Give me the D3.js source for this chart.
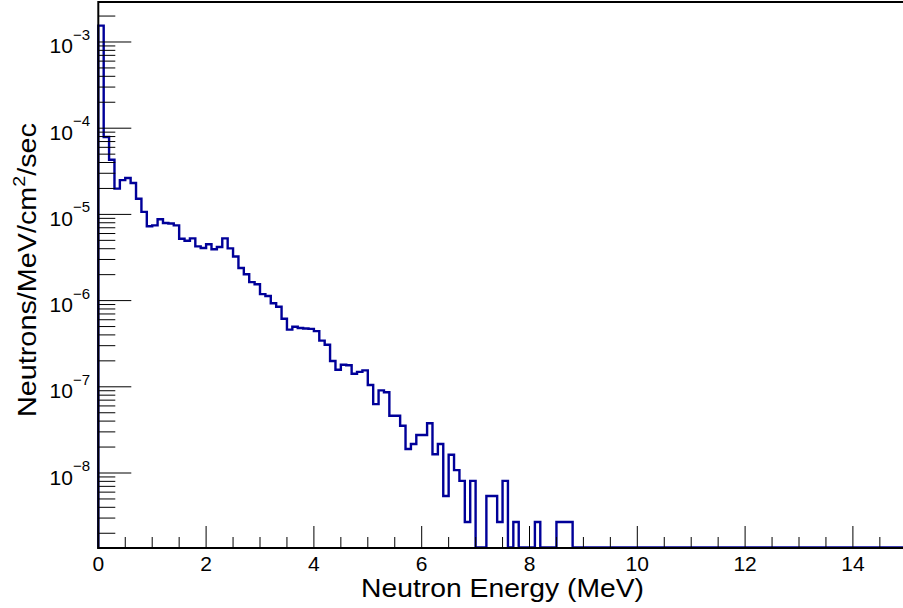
<!DOCTYPE html>
<html>
<head>
<meta charset="utf-8">
<script src="https://cdn.jsdelivr.net/npm/d3@7"></script>
<style>
  html, body { margin: 0; padding: 0; background: #fff; }
  svg { display: block; }
  text { font-family: "Liberation Sans", Arial, Helvetica, sans-serif; fill: #000; }
</style>
</head>
<body>
<svg id="chart" width="903" height="608"></svg>
<script>
// ---- data ----
const binWidth = 0.1;       // MeV
const xDomain = [0, 15];
const counts = [
  1.55e-3, 7.9e-5, 4.3e-5, 1.99e-5, 2.5e-5, 2.64e-5, 2.31e-5, 1.52e-5, 1.07e-5, 7.3e-6,
  7.46e-6, 8.77e-6, 7.94e-6, 7.85e-6, 7.46e-6, 5.22e-6, 4.95e-6, 5.27e-6, 4.26e-6, 4.07e-6,
  4.5e-6, 3.94e-6, 4.19e-6, 5.27e-6, 4.04e-6, 3.25e-6, 2.39e-6, 2.02e-6, 1.64e-6, 1.55e-6,
  1.19e-6, 1.13e-6, 9.3e-7, 8.5e-7, 6.17e-7, 4.6e-7, 4.98e-7, 4.81e-7, 4.75e-7, 4.7e-7,
  4.43e-7, 3.43e-7, 3.08e-7, 1.99e-7, 1.58e-7, 1.80e-7, 1.78e-7, 1.42e-7, 1.49e-7, 1.55e-7,
  1.05e-7, 6.3e-8, 9.1e-8, 8.63e-8, 4.62e-8, 4.62e-8, 3.54e-8, 1.90e-8, 2.17e-8, 2.76e-8,
  2.76e-8, 3.77e-8, 1.65e-8, 2.17e-8, 5.4e-9, 1.63e-8, 1.08e-8, 8.1e-9, 2.7e-9, 8.1e-9,
  0, 0, 5.4e-9, 5.4e-9, 2.7e-9, 8.1e-9, 0, 2.7e-9, 0, 0,
  0, 2.7e-9, 0, 0, 0, 2.7e-9, 2.7e-9, 2.7e-9, 0, 0,
  0, 0, 0, 0, 0, 0, 0, 0, 0, 0,
  0, 0, 0, 0, 0, 0, 0, 0, 0, 0,
  0, 0, 0, 0, 0, 0, 0, 0, 0, 0,
  0, 0, 0, 0, 0, 0, 0, 0, 0, 0,
  0, 0, 0, 0, 0, 0, 0, 0, 0, 0,
  0, 0, 0, 0, 0, 0, 0, 0, 0, 0
];
const xTickValues = [0, 2, 4, 6, 8, 10, 12, 14];
const yDecades = [-3, -4, -5, -6, -7, -8];
const xTitle = "Neutron Energy (MeV)";

// ---- layout ----
const svg = d3.select("#chart");
const pLeft = 98.3, pRight = 906.8, pTop = 2, pBottom = 548;
const yMin = Math.pow(10, -8.870), yMax = Math.pow(10, -2.536);

const x = d3.scaleLinear().domain(xDomain).range([pLeft, pRight]);
const y = d3.scaleLog().domain([yMin, yMax]).range([pBottom, pTop]);

// ---- histogram ----
const pts = [[xDomain[0], yMin]];
counts.forEach((v, i) => {
  const val = v > yMin ? v : yMin;
  pts.push([i * binWidth, val]);
  pts.push([(i + 1) * binWidth, val]);
});
pts.push([xDomain[1], yMin]);

svg.append("path")
  .datum(pts)
  .attr("fill", "none")
  .attr("stroke", "#000099")
  .attr("stroke-width", 2.4)
  .attr("d", d3.line().x(d => x(d[0])).y(d => Math.min(y(d[1]), pBottom - 0.5)));

// ---- frame ----
svg.append("line").attr("x1", pLeft).attr("x2", 903).attr("y1", pTop).attr("y2", pTop)
  .attr("stroke", "#000").attr("stroke-width", 2);
svg.append("line").attr("x1", pLeft).attr("x2", pLeft).attr("y1", pTop - 1).attr("y2", pBottom + 1)
  .attr("stroke", "#000").attr("stroke-width", 2);
svg.append("line").attr("x1", pLeft - 1).attr("x2", 903).attr("y1", pBottom).attr("y2", pBottom)
  .attr("stroke", "#000").attr("stroke-width", 2);

// ---- x ticks ----
const xMinor = d3.range(0, 15.0001, 0.5);
const gx = svg.append("g");
xMinor.forEach(v => {
  const isMajor = Math.abs(v / 2 - Math.round(v / 2)) < 1e-6;
  gx.append("line")
    .attr("x1", x(v)).attr("x2", x(v))
    .attr("y1", pBottom).attr("y2", pBottom - (isMajor ? 22 : 11))
    .attr("stroke", "#000").attr("stroke-width", 1);
});
xTickValues.forEach(v => {
  gx.append("text")
    .attr("x", x(v)).attr("y", 570.5)
    .attr("text-anchor", "middle")
    .attr("font-size", 21)
    .text(v);
});

// ---- y ticks ----
const gy = svg.append("g");
for (let d = -9; d <= -3; d++) {
  for (let m = 1; m <= 9; m++) {
    const v = m * Math.pow(10, d);
    if (v < yMin || v > yMax) continue;
    gy.append("line")
      .attr("x1", pLeft).attr("x2", pLeft + (m === 1 ? 33 : 17))
      .attr("y1", y(v)).attr("y2", y(v))
      .attr("stroke", "#000").attr("stroke-width", 1);
  }
}
yDecades.forEach(d => {
  const t = gy.append("text")
    .attr("x", 90).attr("y", y(Math.pow(10, d)) + 11.5)
    .attr("text-anchor", "end");
  t.append("tspan").attr("font-size", 21).text("10");
  t.append("tspan").attr("font-size", 15).attr("dy", -13.5).text("\u2212" + (-d));
});

// ---- axis titles ----
svg.append("text")
  .attr("x", (pLeft + pRight) / 2).attr("y", 597)
  .attr("text-anchor", "middle")
  .attr("font-size", 25)
  .attr("textLength", 283).attr("lengthAdjust", "spacingAndGlyphs")
  .text(xTitle);

const yt = svg.append("text")
  .attr("transform", "translate(36,270) rotate(-90)")
  .attr("text-anchor", "middle")
  .attr("font-size", 25)
  .attr("textLength", 294).attr("lengthAdjust", "spacingAndGlyphs");
yt.append("tspan").text("Neutrons/MeV/cm");
yt.append("tspan").attr("font-size", 17).attr("dy", -11).text("2");
yt.append("tspan").attr("dy", 11).text("/sec");
</script>
</body>
</html>
